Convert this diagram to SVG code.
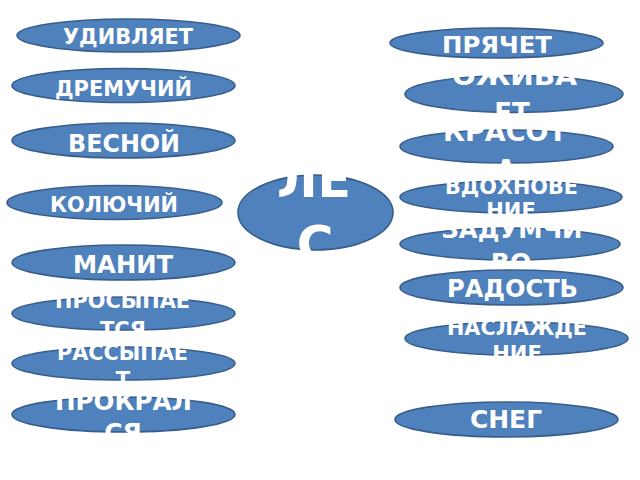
<svg xmlns="http://www.w3.org/2000/svg" width="640" height="480" viewBox="0 0 640 480">
<style>
.n{fill:#4F81BD;stroke:#385D8A;stroke-width:1.6}
.t{fill:#fff;font-family:"DejaVu Sans","Liberation Sans",sans-serif;font-weight:bold;text-anchor:middle}
</style>
<rect width="640" height="480" fill="#fff"/>
<g id="connectors"></g>
<g id="n-les"><ellipse class="n" cx="315.5" cy="212.5" rx="77.5" ry="37.5"/><text class="t" font-size="50"><tspan x="314" y="197" textLength="74" lengthAdjust="spacingAndGlyphs">ЛЕ</tspan><tspan x="315" y="261">С</tspan></text></g>
<g id="n-udivlyaet"><ellipse class="n" cx="128.5" cy="35.5" rx="111.5" ry="16.5"/><text class="t" font-size="21" x="128" y="43.5" textLength="130" lengthAdjust="spacingAndGlyphs">УДИВЛЯЕТ</text></g>
<g id="n-dremuchiy"><ellipse class="n" cx="123.5" cy="85.5" rx="111.5" ry="17"/><text class="t" font-size="22" x="123.5" y="96" textLength="137" lengthAdjust="spacingAndGlyphs">ДРЕМУЧИЙ</text></g>
<g id="n-vesnoy"><ellipse class="n" cx="123.5" cy="140.5" rx="111.5" ry="17.5"/><text class="t" font-size="24" x="124" y="151.5" textLength="112" lengthAdjust="spacingAndGlyphs">ВЕСНОЙ</text></g>
<g id="n-koluchiy"><ellipse class="n" cx="114.5" cy="202.5" rx="107.5" ry="17"/><text class="t" font-size="21" x="114" y="212" textLength="128" lengthAdjust="spacingAndGlyphs">КОЛЮЧИЙ</text></g>
<g id="n-manit"><ellipse class="n" cx="123.5" cy="262.5" rx="111.5" ry="17.5"/><text class="t" font-size="25" x="123" y="273" textLength="100" lengthAdjust="spacingAndGlyphs">МАНИТ</text></g>
<g id="n-prosypaetsya"><ellipse class="n" cx="123.5" cy="313.5" rx="111.5" ry="16.5"/><text class="t" font-size="21"><tspan x="122.5" y="308" textLength="135" lengthAdjust="spacingAndGlyphs">ПРОСЫПАЕ</tspan><tspan x="123" y="337">ТСЯ</tspan></text></g>
<g id="n-rassypaet"><ellipse class="n" cx="123.5" cy="363.5" rx="111.5" ry="16.5"/><text class="t" font-size="21"><tspan x="122.5" y="360" textLength="131" lengthAdjust="spacingAndGlyphs">РАССЫПАЕ</tspan><tspan x="123" y="387">Т</tspan></text></g>
<g id="n-prokralsya"><ellipse class="n" cx="123.5" cy="414.5" rx="111.5" ry="17.5"/><text class="t" font-size="25"><tspan x="123.5" y="410" textLength="137" lengthAdjust="spacingAndGlyphs">ПРОКРАЛ</tspan><tspan x="123" y="441">СЯ</tspan></text></g>
<g id="n-pryachet"><ellipse class="n" cx="496.5" cy="43" rx="106.5" ry="15"/><text class="t" font-size="23" x="497" y="53" textLength="110" lengthAdjust="spacingAndGlyphs">ПРЯЧЕТ</text></g>
<g id="n-ozhivaet"><ellipse class="n" cx="514" cy="94" rx="109" ry="18.5"/><text class="t" font-size="26"><tspan x="514.5" y="85" textLength="125" lengthAdjust="spacingAndGlyphs">ОЖИВА</tspan><tspan x="512" y="122">ЕТ</tspan></text></g>
<g id="n-krasota"><ellipse class="n" cx="506.5" cy="146.5" rx="106.5" ry="16.5"/><text class="t" font-size="27"><tspan x="505" y="141" textLength="124" lengthAdjust="spacingAndGlyphs">КРАСОТ</tspan><tspan x="506" y="179">А</tspan></text></g>
<g id="n-vdokhnovenie"><ellipse class="n" cx="511" cy="197" rx="111" ry="16"/><text class="t" font-size="21"><tspan x="511.5" y="194" textLength="133" lengthAdjust="spacingAndGlyphs">ВДОХНОВЕ</tspan><tspan x="511" y="218">НИЕ</tspan></text></g>
<g id="n-zadumchivo"><ellipse class="n" cx="510" cy="244" rx="110" ry="16"/><text class="t" font-size="25"><tspan x="512" y="238" textLength="141" lengthAdjust="spacingAndGlyphs">ЗАДУМЧИ</tspan><tspan x="511" y="271">ВО</tspan></text></g>
<g id="n-radost"><ellipse class="n" cx="511.5" cy="287.5" rx="111.5" ry="17.5"/><text class="t" font-size="24" x="512.5" y="297" textLength="131" lengthAdjust="spacingAndGlyphs">РАДОСТЬ</text></g>
<g id="n-naslazhdenie"><ellipse class="n" cx="516.5" cy="338.5" rx="111.5" ry="16.5"/><text class="t" font-size="21"><tspan x="517" y="335" textLength="140" lengthAdjust="spacingAndGlyphs">НАСЛАЖДЕ</tspan><tspan x="517" y="361">НИЕ</tspan></text></g>
<g id="n-sneg"><ellipse class="n" cx="506.5" cy="419.5" rx="111.5" ry="17.5"/><text class="t" font-size="24" x="506" y="428" textLength="72" lengthAdjust="spacingAndGlyphs">СНЕГ</text></g>
</svg>
